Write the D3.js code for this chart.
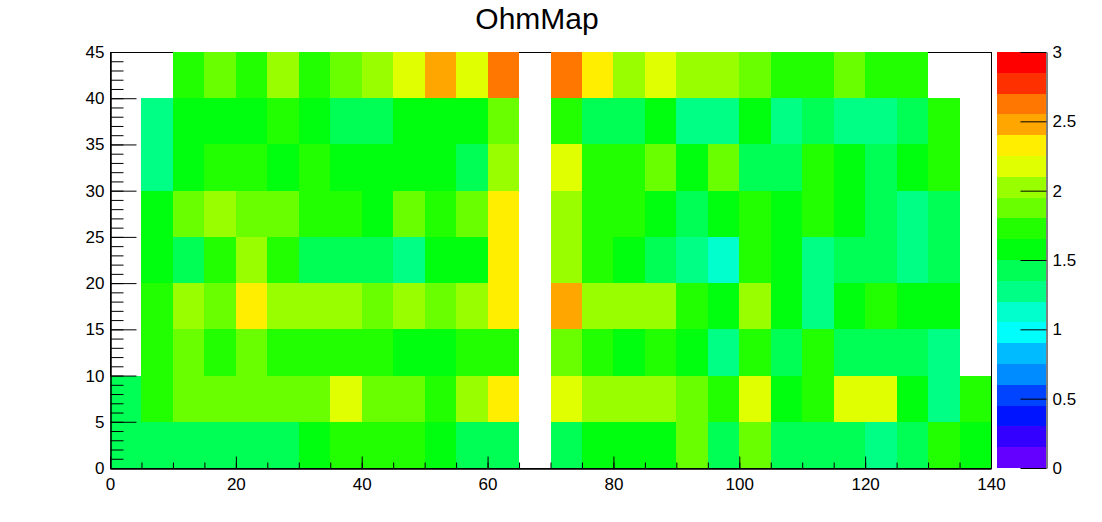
<!DOCTYPE html>
<html>
<head>
<meta charset="utf-8">
<script src="https://cdn.jsdelivr.net/npm/d3@7"></script>
<style>
  html, body { margin: 0; padding: 0; background: #fff; }
  svg text { font-family: "Liberation Sans", Arial, sans-serif; }
</style>
</head>
<body>
<svg id="chart" width="1102" height="522"></svg>
<script>
// ---------- data ----------
const chartTitle = "OhmMap";
const xBinLow = [0,5,10,15,20,25,30,35,40,45,50,55,60,65,70,75,80,85,90,95,100,105,110,115,120,125,130,135];
const yBinLow = [0,5,10,15,20,25,30,35,40];
const binWidth = 5;
// one array per y-bin (y low edge in the name); null = empty bin
const ohm_y0  = [1.43,1.43,1.43,1.43,1.43,1.43,1.58,1.73,1.73,1.73,1.58,1.43,1.43,null,1.43,1.58,1.58,1.58,1.88,1.43,1.88,1.43,1.43,1.43,1.28,1.43,1.73,1.58];
const ohm_y5  = [1.43,1.73,1.88,1.88,1.88,1.88,1.88,2.18,1.88,1.88,1.73,2.03,2.33,null,2.18,2.03,2.03,2.03,1.88,1.73,2.18,1.58,1.73,2.18,2.18,1.58,1.28,1.73];
const ohm_y10 = [null,1.73,1.88,1.73,1.88,1.73,1.73,1.73,1.73,1.58,1.58,1.73,1.73,null,1.88,1.73,1.58,1.73,1.58,1.28,1.73,1.43,1.73,1.43,1.43,1.43,1.28,null];
const ohm_y15 = [null,1.73,2.03,1.88,2.33,2.03,2.03,2.03,1.88,2.03,1.88,2.03,2.33,null,2.48,2.03,2.03,2.03,1.73,1.58,2.03,1.58,1.28,1.58,1.73,1.58,1.58,null];
const ohm_y20 = [null,1.58,1.43,1.73,2.03,1.73,1.43,1.43,1.43,1.28,1.58,1.58,2.33,null,2.03,1.73,1.58,1.43,1.28,1.13,1.73,1.58,1.28,1.43,1.43,1.28,1.43,null];
const ohm_y25 = [null,1.58,1.88,2.03,1.88,1.88,1.73,1.73,1.58,1.88,1.73,1.88,2.33,null,2.03,1.73,1.73,1.58,1.43,1.58,1.73,1.58,1.73,1.58,1.43,1.28,1.43,null];
const ohm_y30 = [null,1.28,1.58,1.73,1.73,1.58,1.73,1.58,1.58,1.58,1.58,1.43,2.03,null,2.18,1.73,1.73,1.88,1.58,1.88,1.43,1.43,1.73,1.58,1.43,1.58,1.73,null];
const ohm_y35 = [null,1.28,1.58,1.58,1.58,1.73,1.58,1.43,1.43,1.58,1.58,1.58,1.88,null,1.73,1.43,1.43,1.58,1.28,1.28,1.58,1.28,1.43,1.28,1.28,1.43,1.73,null];
const ohm_y40 = [null,null,1.73,1.88,1.73,2.03,1.73,1.88,2.03,2.18,2.48,2.18,2.63,null,2.63,2.33,2.03,2.18,2.03,2.03,1.88,1.73,1.73,1.88,1.73,1.73,null,null];
const ohmRows = [ohm_y0, ohm_y5, ohm_y10, ohm_y15, ohm_y20, ohm_y25, ohm_y30, ohm_y35, ohm_y40];

const xTicksMajor = [0,20,40,60,80,100,120,140];
const yTicksMajor = [0,5,10,15,20,25,30,35,40,45];
const zTicks = [0,0.5,1,1.5,2,2.5,3];
const zTickLabels = ["0","0.5","1","1.5","2","2.5","3"];
const zMin = 0, zMax = 3;

// ROOT "pretty" palette, 20 contour levels
const palette = ["#6300ff","#3300ff","#0014ff","#0044ff","#008bff","#00bbff","#00fffc","#00ffcc","#00ff85","#00ff55",
                 "#00ff0e","#22ff00","#69ff00","#99ff00","#e0ff00","#ffee00","#ffa700","#ff7700","#ff3000","#ff0000"];

// ---------- layout ----------
const frame = { left: 110, right: 991, top: 52, bottom: 468 };
const pal = { left: 997, right: 1046 };

const svg = d3.select("#chart");
const x = d3.scaleLinear().domain([0, 140]).range([frame.left, frame.right]);
const y = d3.scaleLinear().domain([0, 45]).range([frame.bottom, frame.top]);
const z = d3.scaleLinear().domain([zMin, zMax]).range([frame.bottom, frame.top]);
const color = d3.scaleQuantize().domain([zMin, zMax]).range(palette);

// frame
svg.append("rect")
  .attr("x", frame.left + 0.5).attr("y", frame.top + 0.5)
  .attr("width", frame.right - frame.left).attr("height", frame.bottom - frame.top)
  .attr("fill", "none").attr("stroke", "#000").attr("stroke-width", 1);

// cells
const cells = [];
ohmRows.forEach((row, j) => row.forEach((v, i) => {
  if (v !== null) cells.push({ x0: xBinLow[i], y0: yBinLow[j], v });
}));
svg.append("g").selectAll("rect").data(cells).join("rect")
  .attr("x", d => x(d.x0))
  .attr("y", d => y(d.y0 + binWidth))
  .attr("width", d => x(d.x0 + binWidth) - x(d.x0))
  .attr("height", d => y(d.y0) - y(d.y0 + binWidth))
  .attr("fill", d => color(d.v))
  .attr("shape-rendering", "crispEdges");

// axes
const fontSize = 17;
const xMinor = d3.range(0, 141, 5);
const yMinor = d3.range(0, 46, 1);

const gx = svg.append("g").attr("transform", `translate(0,${frame.bottom + 0.5})`);
gx.call(d3.axisBottom(x).tickValues(xMinor).tickSizeInner(-6).tickSizeOuter(0).tickFormat(""));
gx.append("g").call(d3.axisBottom(x).tickValues(xTicksMajor).tickSizeInner(-12).tickSizeOuter(0).tickPadding(8).tickFormat(d3.format("d")));
gx.selectAll("path.domain").attr("stroke", "#000");
gx.selectAll("text").attr("font-size", fontSize).attr("fill", "#000").attr("dy", "0.78em");

const gy = svg.append("g").attr("transform", `translate(${frame.left + 0.5},0)`);
gy.call(d3.axisLeft(y).tickValues(yMinor).tickSizeInner(-13).tickSizeOuter(0).tickFormat(""));
gy.append("g").call(d3.axisLeft(y).tickValues(yTicksMajor).tickSizeInner(-26).tickSizeOuter(0).tickPadding(6).tickFormat(d3.format("d")));
gy.selectAll("text").attr("font-size", fontSize).attr("fill", "#000");

// palette bar
svg.append("g").selectAll("rect").data(palette).join("rect")
  .attr("x", pal.left)
  .attr("y", (c, k) => z(zMin + (k + 1) * (zMax - zMin) / palette.length))
  .attr("width", pal.right - pal.left)
  .attr("height", (c, k) => z(zMin + k * (zMax - zMin) / palette.length) - z(zMin + (k + 1) * (zMax - zMin) / palette.length))
  .attr("fill", c => c)
  .attr("shape-rendering", "crispEdges");

const gz = svg.append("g").attr("transform", `translate(${pal.right + 0.5},0)`);
gz.call(d3.axisRight(z).tickValues(zTicks).tickSizeInner(-26).tickSizeOuter(0).tickPadding(6)
  .tickFormat((d, i) => zTickLabels[i]));
gz.selectAll("text").attr("font-size", fontSize).attr("fill", "#000");

// title
svg.append("text")
  .attr("x", 537).attr("y", 29)
  .attr("text-anchor", "middle")
  .attr("font-size", 30)
  .attr("fill", "#000")
  .text(chartTitle);
</script>
</body>
</html>
